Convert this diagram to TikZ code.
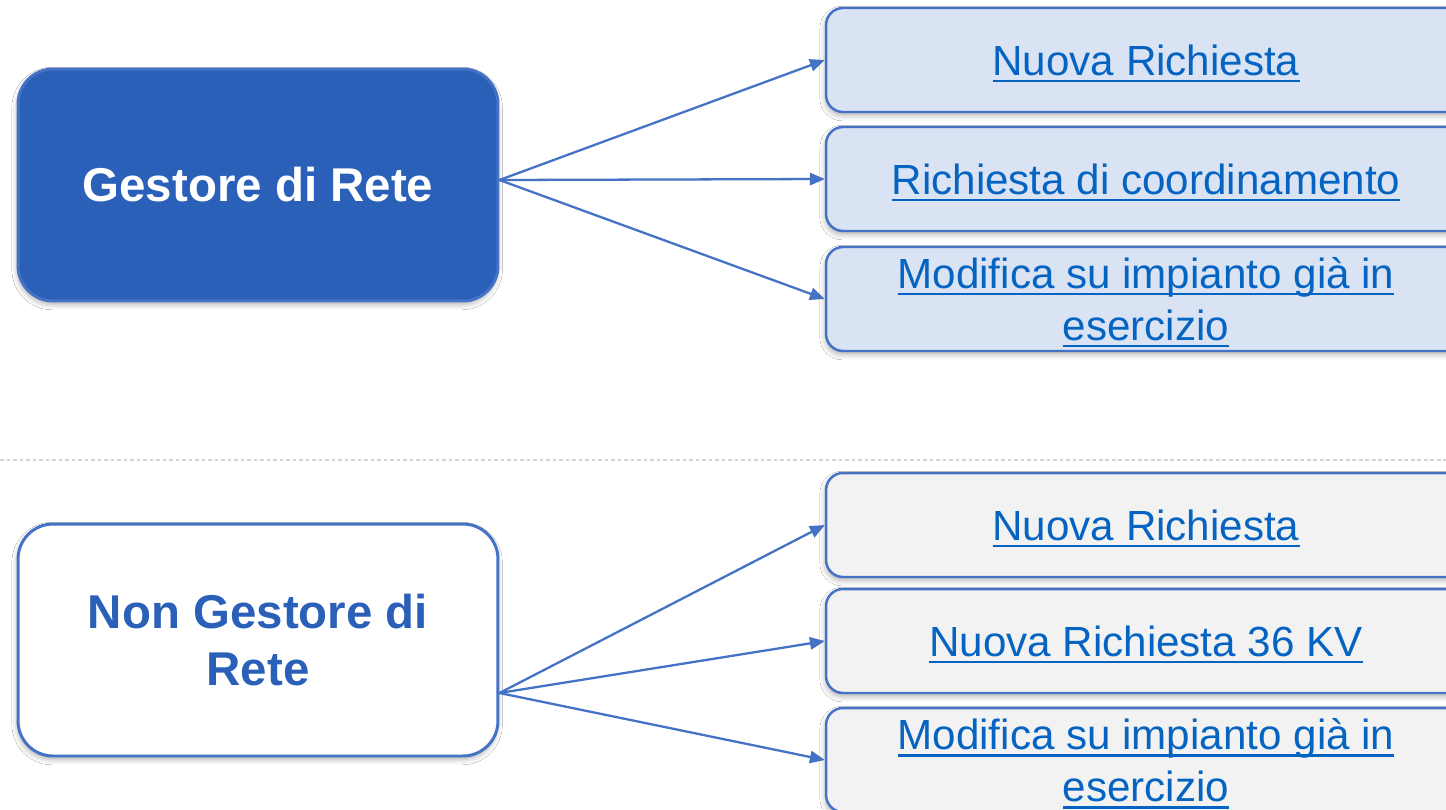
\documentclass[tikz,border=0pt]{standalone}
\usepackage{fontspec}
\setmainfont{Liberation Sans}
\usetikzlibrary{arrows.meta,shadows.blur}
\definecolor{gestblue}{HTML}{2B60B9}
\definecolor{edgeblue}{HTML}{4472C4}
\definecolor{linkblue}{HTML}{0563C1}
\definecolor{paleblue}{HTML}{DAE3F3}
\definecolor{palegray}{HTML}{F2F2F2}
\definecolor{sepgray}{HTML}{D4D4D4}
% underline at a fixed depth, as hyperlinks are shown
\newcommand{\ulink}[1]{\setbox0\hbox{#1}\rlap{\smash{\rule[-0.17em]{\wd0}{0.06em}}}\box0}
\tikzset{
  role/.style={draw=edgeblue, line width=1.7pt, rounded corners=0.7cm,
    minimum width=9.6cm, minimum height=4.64cm, align=center,
    font=\fontsize{27}{32.4}\selectfont\bfseries,
    blur shadow={shadow xshift=-0.5pt, shadow yshift=-2pt, shadow blur radius=3pt, shadow opacity=30}},
  choice/.style={draw=edgeblue, line width=1.4pt, rounded corners=0.34cm,
    minimum width=12.8cm, minimum height=2.08cm, align=center, text=linkblue,
    font=\fontsize{24}{29.6}\selectfont,
    blur shadow={shadow xshift=-0.5pt, shadow yshift=-2pt, shadow blur radius=3pt, shadow opacity=30}},
  link/.style={draw=edgeblue, line width=1.3pt, -{Triangle[length=8.5pt,width=7pt]}}
}
\begin{document}
\begin{tikzpicture}[x=0.02cm, y=-0.02cm]
    \clip (0,0) rectangle (1446,809);
    \fill[white] (0,0) rectangle (1446,809);
    % --- separatore ---
    \draw[sepgray, line width=0.8pt, dash pattern=on 2.2pt off 1.5pt] (0,460) -- (1446,460);
    % --- Gestore di Rete ---
    \node[role, fill=gestblue, text=white] (gr) at (258,185) {Gestore di Rete};
    \node[choice, fill=paleblue] (gr1) at (1146,60)  {\ulink{Nuova Richiesta}};
    \node[choice, fill=paleblue] (gr2) at (1146,179) {\ulink{Richiesta di coordinamento}};
    \node[choice, fill=paleblue] (gr3) at (1146,299) {\ulink{Modifica su impianto già in}\\\ulink{esercizio}};
    \coordinate (gr out) at ([yshift=0.1cm]gr.east);
    \draw[link] (gr out) -- (gr1.west);
    \draw[link] (gr out) -- (gr2.west);
    \draw[link] (gr out) -- (gr3.west);
    % --- Non Gestore di Rete ---
    \node[role, fill=white, text=gestblue] (ng) at (258,640) {Non Gestore di\\Rete};
    \node[choice, fill=palegray] (ng1) at (1146,525) {\ulink{Nuova Richiesta}};
    \node[choice, fill=palegray] (ng2) at (1146,641) {\ulink{Nuova Richiesta 36 KV}};
    \node[choice, fill=palegray] (ng3) at (1146,760) {\ulink{Modifica su impianto già in}\\\ulink{esercizio}};
    \coordinate (ng out) at ([yshift=-1.06cm]ng.east);
    \draw[link] (ng out) -- (ng1.west);
    \draw[link] (ng out) -- (ng2.west);
    \draw[link] (ng out) -- (ng3.west);
  \end{tikzpicture}
\end{document}
